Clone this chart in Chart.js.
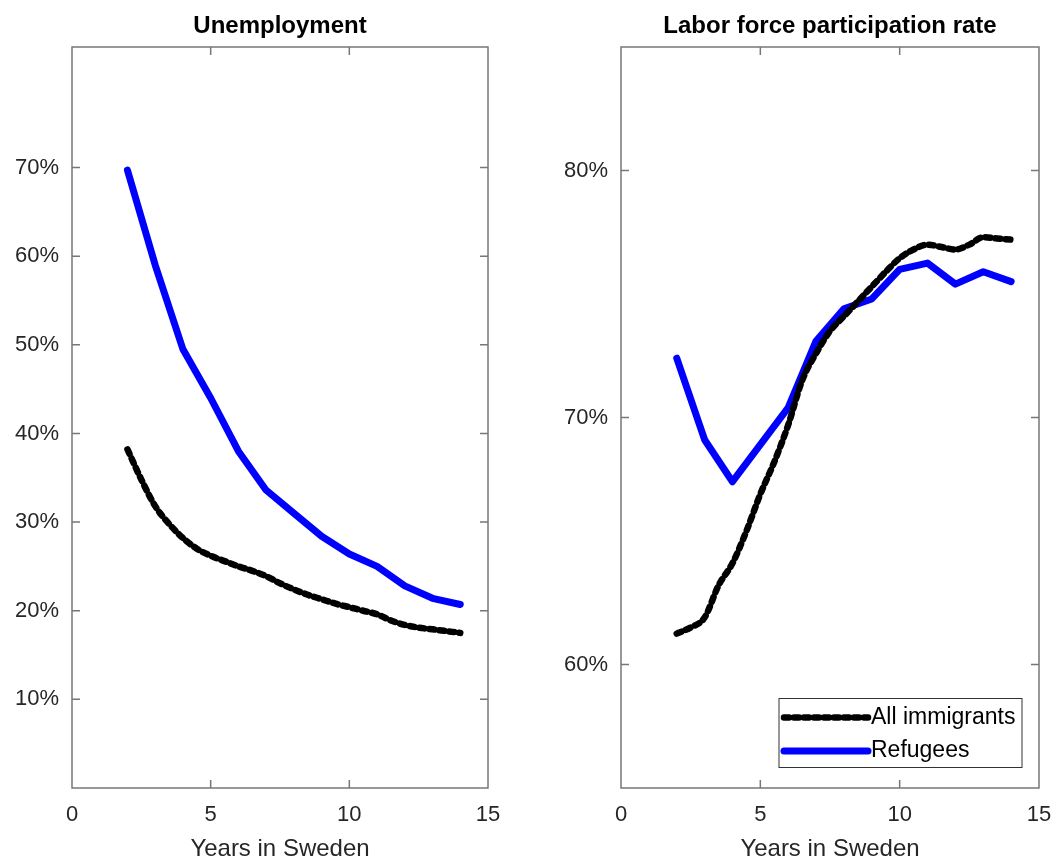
<!DOCTYPE html>
<html>
<head>
<meta charset="utf-8">
<script src="https://cdn.jsdelivr.net/npm/chart.js@4.4.0/dist/chart.umd.min.js"></script>
<style>
  html, body { margin: 0; padding: 0; background: #fff; }
  #left { position: absolute; left: 0; top: 0; width: 520px; height: 861px; }
  #right { position: absolute; left: 530px; top: 0; width: 522px; height: 861px; }
</style>
</head>
<body>
<div id="left"><canvas id="unemp"></canvas></div>
<div id="right"><canvas id="lfpr"></canvas></div>
<script>
// years in Sweden (refugee series is yearly, all-immigrants series is half-yearly)
const yearsRef = [2, 3, 4, 5, 6, 7, 8, 9, 10, 11, 12, 13, 14];
const yearsAll = [2, 2.5, 3, 3.5, 4, 4.5, 5, 5.5, 6, 6.5, 7, 7.5, 8, 8.5, 9, 9.5, 10, 10.5, 11, 11.5, 12, 12.5, 13, 13.5, 14];

// unemployment, percent
const unempRefugees = [69.7, 59.0, 49.5, 44.0, 38.0, 33.6, 31.0, 28.4, 26.4, 25.0, 22.8, 21.4, 20.7];
const unempAll = [38.2, 34.8, 31.8, 29.8, 28.2, 27.0, 26.2, 25.6, 25.0, 24.5, 23.9, 23.1, 22.4, 21.8, 21.3, 20.8, 20.4, 20.0, 19.6, 18.9, 18.4, 18.1, 17.9, 17.7, 17.5];

// labor force participation rate, percent
const lfprRefugees = [72.4, 69.1, 67.4, 68.9, 70.4, 73.1, 74.4, 74.8, 76.0, 76.25, 75.4, 75.9, 75.5];
const lfprAll = [61.25, 61.5, 61.9, 63.2, 64.1, 65.4, 66.9, 68.2, 69.7, 71.5, 72.6, 73.5, 74.1, 74.7, 75.3, 75.9, 76.45, 76.8, 77.0, 76.9, 76.8, 77.0, 77.3, 77.25, 77.2];

const xTicks = [0, 5, 10, 15];
const unempTicks = [10, 20, 30, 40, 50, 60, 70];
const lfprTicks = [60, 70, 80];

Chart.defaults.font.family = "'Liberation Sans', Arial, sans-serif";
Chart.defaults.color = '#262626';

function pairs(xs, ys) {
    return xs.map((x, i) => ({ x: x, y: ys[i] }));
}

// MATLAB-style box with inward ticks
const boxPlugin = {
    id: 'matlabBox',
    afterDraw(chart, args, opts) {
        const { ctx, chartArea: a, scales } = chart;
        ctx.save();
        ctx.strokeStyle = opts.color;
        ctx.lineWidth = opts.width;
        ctx.strokeRect(a.left, a.top, a.right - a.left, a.bottom - a.top);
        ctx.beginPath();
        scales.x.ticks.forEach(t => {
            const px = scales.x.getPixelForValue(t.value);
            if (px <= a.left + 1 || px >= a.right - 1) return;
            ctx.moveTo(px, a.bottom); ctx.lineTo(px, a.bottom - opts.tickLen);
            ctx.moveTo(px, a.top); ctx.lineTo(px, a.top + opts.tickLen);
        });
        scales.y.ticks.forEach(t => {
            const py = scales.y.getPixelForValue(t.value);
            if (py <= a.top + 1 || py >= a.bottom - 1) return;
            ctx.moveTo(a.left, py); ctx.lineTo(a.left + opts.tickLen, py);
            ctx.moveTo(a.right, py); ctx.lineTo(a.right - opts.tickLen, py);
        });
        ctx.stroke();
        ctx.restore();
    }
};

// legend drawn inside the plot, bottom right
const boxLegend = {
    id: 'boxLegend',
    afterDraw(chart, args, opts) {
        if (!opts.display) return;
        const { ctx, chartArea: a } = chart;
        const x0 = a.right - opts.right - opts.width;
        const y0 = a.bottom - opts.bottom - opts.height;
        ctx.save();
        ctx.fillStyle = '#fff';
        ctx.fillRect(x0, y0, opts.width, opts.height);
        ctx.strokeStyle = '#333';
        ctx.lineWidth = 1;
        ctx.strokeRect(x0, y0, opts.width, opts.height);
        ctx.font = opts.fontSize + "px 'Liberation Sans', Arial, sans-serif";
        ctx.textBaseline = 'middle';
        chart.data.datasets.forEach((ds, i) => {
            const cy = y0 + opts.firstRow + i * opts.rowGap;
            ctx.beginPath();
            ctx.strokeStyle = ds.borderColor;
            ctx.lineWidth = ds.borderWidth;
            ctx.lineCap = ds.borderCapStyle || 'butt';
            ctx.setLineDash(ds.borderDash || []);
            ctx.moveTo(x0 + 5, cy);
            ctx.lineTo(x0 + 5 + opts.lineLen, cy);
            ctx.stroke();
            ctx.setLineDash([]);
            ctx.fillStyle = '#000';
            ctx.fillText(ds.label, x0 + 8 + opts.lineLen, cy);
        });
        ctx.restore();
    }
};

function makeChart(id, title, allData, refData, yMin, yMax, yTicks, showLegend, yWidth, padRight) {
    return new Chart(document.getElementById(id), {
        type: 'line',
        data: {
            datasets: [
                {
                    label: 'All immigrants',
                    data: allData,
                    borderColor: '#000000',
                    borderWidth: 6.5,
                    borderDash: [5, 5],
                    borderCapStyle: 'round',
                    borderJoinStyle: 'round',
                    cubicInterpolationMode: 'monotone',
                    pointRadius: 0,
                },
                {
                    label: 'Refugees',
                    data: refData,
                    borderColor: '#0000ff',
                    borderWidth: 7,
                    borderCapStyle: 'round',
                    borderJoinStyle: 'round',
                    tension: 0,
                    pointRadius: 0,
                },
            ],
        },
        options: {
            responsive: true,
            maintainAspectRatio: false,
            animation: false,
            layout: { padding: { right: padRight } },
            plugins: {
                legend: { display: false },
                tooltip: { enabled: false },
                title: {
                    display: true,
                    text: title,
                    fullSize: false,
                    color: '#000',
                    font: { size: 24, weight: 'bold' },
                    padding: { top: 12, bottom: 6.2 },
                },
                matlabBox: { color: '#777', width: 1.5, tickLen: 8 },
                boxLegend: {
                    display: showLegend,
                    width: 243, height: 69, right: 17, bottom: 20.5,
                    firstRow: 19, rowGap: 33.5, lineLen: 84, fontSize: 23,
                },
            },
            scales: {
                x: {
                    type: 'linear',
                    min: 0,
                    max: 15,
                    afterBuildTicks: s => { s.ticks = xTicks.map(v => ({ value: v })); },
                    afterFit: s => { s.height = 73; s.paddingLeft = 0; s.paddingRight = 0; },
                    grid: { display: false, drawTicks: false },
                    border: { display: false },
                    ticks: { font: { size: 22 }, padding: 14, maxRotation: 0 },
                    title: {
                        display: true,
                        text: 'Years in Sweden',
                        font: { size: 24, lineHeight: 1 },
                        padding: { top: 0, bottom: 0 },
                    },
                },
                y: {
                    type: 'linear',
                    min: yMin,
                    max: yMax,
                    afterBuildTicks: s => { s.ticks = yTicks.map(v => ({ value: v })); },
                    afterFit: s => { s.width = yWidth; },
                    grid: { display: false, drawTicks: false },
                    border: { display: false },
                    ticks: { font: { size: 22 }, padding: 13, callback: v => v + '%' },
                },
            },
        },
        plugins: [boxPlugin, boxLegend],
    });
}

makeChart('unemp', 'Unemployment', pairs(yearsAll, unempAll), pairs(yearsRef, unempRefugees),
    0, 83.6, unempTicks, false, 72, 32);
makeChart('lfpr', 'Labor force participation rate', pairs(yearsAll, lfprAll), pairs(yearsRef, lfprRefugees),
    55, 85, lfprTicks, true, 91, 13);
</script>
</body>
</html>
